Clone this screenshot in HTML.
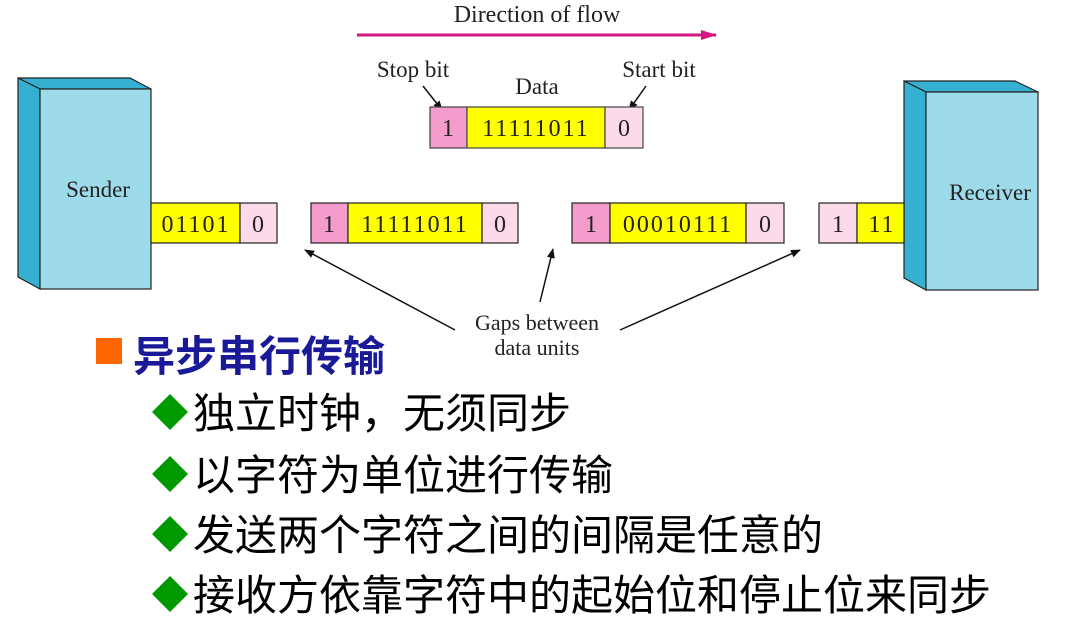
<!DOCTYPE html>
<html><head><meta charset="utf-8"><style>
html,body{margin:0;padding:0;background:#fff;}
svg{display:block}
.s{font-family:"Liberation Serif",serif;fill:#222}
.c{font-family:"Liberation Sans","Noto Sans CJK SC",sans-serif}
</style></head><body>
<svg width="1073" height="618" viewBox="0 0 1073 618" xmlns="http://www.w3.org/2000/svg">
<defs>
<marker id="ah" markerWidth="10" markerHeight="8" refX="9" refY="4" orient="auto" markerUnits="userSpaceOnUse"><path d="M0,0 L10,4 L0,8 z" fill="#111"/></marker>
<marker id="am" markerWidth="16" markerHeight="10" refX="15" refY="5" orient="auto" markerUnits="userSpaceOnUse"><path d="M0,0 L16,5 L0,10 z" fill="#d6167f"/></marker>
</defs>
<text x="537" y="22" class="s" font-size="24" text-anchor="middle">Direction of flow</text>
<line x1="357" y1="35" x2="716" y2="35" stroke="#d6167f" stroke-width="3" marker-end="url(#am)"/>
<text x="413" y="77" class="s" font-size="23" text-anchor="middle">Stop bit</text>
<text x="537" y="94" class="s" font-size="23" text-anchor="middle">Data</text>
<text x="659" y="77" class="s" font-size="23" text-anchor="middle">Start bit</text>
<line x1="423" y1="86" x2="442" y2="110" stroke="#111" stroke-width="1.5" marker-end="url(#ah)"/>
<line x1="646" y1="86" x2="629" y2="110" stroke="#111" stroke-width="1.5" marker-end="url(#ah)"/>
<g stroke="#444" stroke-width="1.2">
<rect x="430" y="107" width="37" height="41" fill="#f49ccb"/>
<rect x="467" y="107" width="138" height="41" fill="#ffff00"/>
<rect x="605" y="107" width="38" height="41" fill="#fddaea"/>
</g>
<g class="s" font-size="24" text-anchor="middle">
<text x="448" y="136">1</text><text x="536" y="136" letter-spacing="2">11111011</text><text x="624" y="136">0</text>
</g>
<g stroke="#222" stroke-width="1.2">
<polygon points="18,78 130,78 151,89 40,89" fill="#35b0d0"/>
<polygon points="18,78 40,89 40,289 18,277" fill="#35b0d0"/>
<rect x="40" y="89" width="111" height="200" fill="#9ddaea"/>
<polygon points="904,81 1015,81 1038,92 926,92" fill="#35b0d0"/>
<polygon points="904,81 926,92 926,290 904,278" fill="#35b0d0"/>
<rect x="926" y="92" width="112" height="198" fill="#9ddaea"/>
<rect x="151" y="203" width="89" height="40" fill="#ffff00"/>
<rect x="240" y="203" width="37" height="40" fill="#fddaea"/>
<rect x="311" y="203" width="37" height="40" fill="#f49ccb"/>
<rect x="348" y="203" width="134" height="40" fill="#ffff00"/>
<rect x="482" y="203" width="36" height="40" fill="#fddaea"/>
<rect x="572" y="203" width="38" height="40" fill="#f49ccb"/>
<rect x="610" y="203" width="136" height="40" fill="#ffff00"/>
<rect x="746" y="203" width="38" height="40" fill="#fddaea"/>
<rect x="819" y="203" width="38" height="40" fill="#fddaea"/>
<rect x="857" y="203" width="47" height="40" fill="#ffff00"/>
</g>
<text x="98" y="197" class="s" font-size="23" text-anchor="middle">Sender</text>
<text x="990" y="200" class="s" font-size="23" text-anchor="middle">Receiver</text>
<g class="s" font-size="24" text-anchor="middle">
<text x="196" y="232" letter-spacing="2">01101</text><text x="258" y="232">0</text>
<text x="329" y="232">1</text><text x="415" y="232" letter-spacing="2">11111011</text><text x="500" y="232">0</text>
<text x="591" y="232">1</text><text x="678" y="232" letter-spacing="2">00010111</text><text x="765" y="232">0</text>
<text x="838" y="232">1</text><text x="882" y="232" letter-spacing="2">11</text>
</g>
<line x1="455" y1="330" x2="305" y2="250" stroke="#111" stroke-width="1.5" marker-end="url(#ah)"/>
<line x1="540" y1="302" x2="553" y2="249" stroke="#111" stroke-width="1.5" marker-end="url(#ah)"/>
<line x1="620" y1="330" x2="800" y2="250" stroke="#111" stroke-width="1.5" marker-end="url(#ah)"/>
<text x="537" y="330" class="s" font-size="22" text-anchor="middle">Gaps between</text>
<text x="537" y="355" class="s" font-size="22" text-anchor="middle">data units</text>
<rect x="96" y="338" width="26" height="26" fill="#ff6600"/>
<text x="133" y="371" class="c" font-size="42" font-weight="bold" fill="#1a1a99">异步串行传输</text>
<g class="c" font-size="42" fill="#000">
<polygon points="170,394 188,412 170,430 152,412" fill="#009900"/>
<text x="193" y="428">独立时钟，无须同步</text>
<polygon points="170,456 188,474 170,492 152,474" fill="#009900"/>
<text x="193" y="490">以字符为单位进行传输</text>
<polygon points="170,516 188,534 170,552 152,534" fill="#009900"/>
<text x="193" y="550">发送两个字符之间的间隔是任意的</text>
<polygon points="170,576 188,594 170,612 152,594" fill="#009900"/>
<text x="193" y="610">接收方依靠字符中的起始位和停止位来同步</text>
</g>
</svg>
</body></html>
